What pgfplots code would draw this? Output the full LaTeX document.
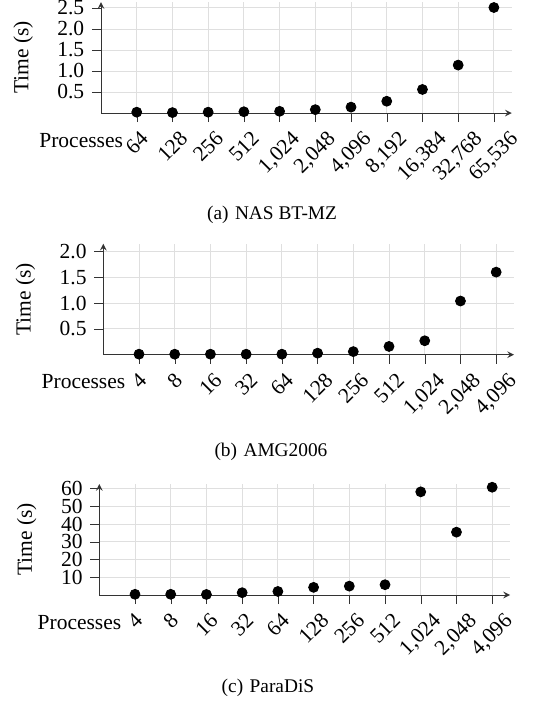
\documentclass[border=0pt]{standalone}
\usepackage{fontspec}
\setmainfont{Liberation Serif}
\usepackage{graphicx}
\usepackage{pgfplots}
\pgfplotsset{compat=1.18}

% tick labels are rotated boxes, hung centred under each tick
\newcommand{\R}[1]{\rotatebox{45}{#1}}

\pgfplotsset{
  procplot/.style={
    width=191pt, height=51.6pt, scale only axis,
    axis lines=left,
    axis line style={black!80},
    tick align=outside,
    tick style={black!80},
    xmin=-1, xmax=10.5, xtick={0,...,10},
    ymin=0,
    grid=major,
    grid style={gray!25, line width=0.4pt},
    xticklabel style={anchor=north},
    /pgf/number format/assume math mode=true,
    xlabel={Processes}, ylabel={Time (s)},
    xlabel style={at={(axis description cs:0.072,-0.245)}, anchor=east},
    ylabel shift=4.5pt,
  },
  dots/.style={only marks, mark=*, mark size=2.3pt, black},
}

\begin{document}
\begin{tikzpicture}
\useasboundingbox (0,0) rectangle (248.8pt,-328.3pt);

% (a) NAS BT-MZ
\begin{axis}[procplot, at={(46.97pt,-52.55pt)},
    ymax=2.64, ytick={0.5,1,...,2.5},
    yticklabel style={/pgf/number format/.cd, fixed, fixed zerofill, precision=1},
    xticklabels={\R{64},\R{128},\R{256},\R{512},\R{1,024},\R{2,048},\R{4,096},\R{8,192},\R{16,384},\R{32,768},\R{65,536}}]
  \addplot[dots] coordinates {
    (0,0.02) (1,0.01) (2,0.02) (3,0.03) (4,0.04) (5,0.08)
    (6,0.14) (7,0.28) (8,0.56) (9,1.14) (10,2.51)
  };
\end{axis}
\node[font=\small] at (126.5pt,-99.98pt) {(a)\hspace{3pt}NAS BT-MZ};

% (b) AMG2006
\begin{axis}[procplot, at={(48.03pt,-164.94pt)},
    ymax=2.15, ytick={0.5,1,...,2},
    yticklabel style={/pgf/number format/.cd, fixed, fixed zerofill, precision=1},
    xticklabels={\R{4},\R{8},\R{16},\R{32},\R{64},\R{128},\R{256},\R{512},\R{1,024},\R{2,048},\R{4,096}}]
  \addplot[dots] coordinates {
    (0,0.01) (1,0.01) (2,0.01) (3,0.01) (4,0.01) (5,0.03)
    (6,0.06) (7,0.16) (8,0.27) (9,1.04) (10,1.6)
  };
\end{axis}
\node[font=\small] at (126.0pt,-210.2pt) {(b)\hspace{3pt}AMG2006};

% (c) ParaDiS
\begin{axis}[procplot, at={(46.17pt,-276.68pt)},
    ymax=62.5, ytick={10,20,...,60},
    xticklabels={\R{4},\R{8},\R{16},\R{32},\R{64},\R{128},\R{256},\R{512},\R{1,024},\R{2,048},\R{4,096}}]
  \addplot[dots] coordinates {
    (0,0.4) (1,0.4) (2,0.3) (3,1.3) (4,2.0) (5,4.3)
    (6,5.0) (7,5.8) (8,58.1) (9,35.4) (10,60.7)
  };
\end{axis}
\node[font=\small] at (124.6pt,-319.9pt) {(c)\hspace{3pt}ParaDiS};
\end{tikzpicture}
\end{document}
